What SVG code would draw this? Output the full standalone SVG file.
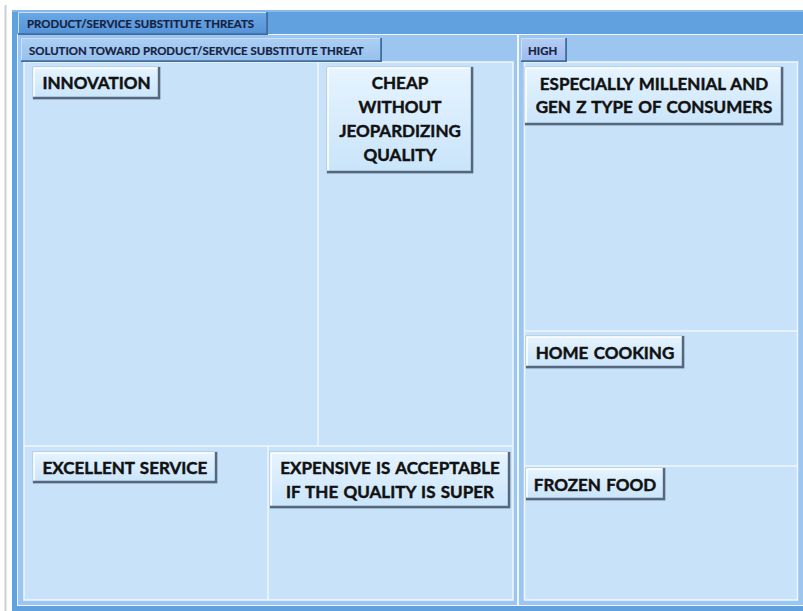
<svg xmlns="http://www.w3.org/2000/svg" width="803" height="611" viewBox="0 0 803 611">
  <defs>
    <linearGradient id="btnFill" x1="0" y1="0" x2="0" y2="1">
      <stop offset="0" stop-color="#e6f4ff"/>
      <stop offset="1" stop-color="#c9e4fa"/>
    </linearGradient>
    <linearGradient id="tabDark" x1="0" y1="0" x2="0" y2="1">
      <stop offset="0" stop-color="#6aa8e6"/>
      <stop offset="1" stop-color="#5592d6"/>
    </linearGradient>
    <linearGradient id="tabLight" x1="0" y1="0" x2="0" y2="1">
      <stop offset="0" stop-color="#acd0f4"/>
      <stop offset="1" stop-color="#97bfec"/>
    </linearGradient>
    <linearGradient id="tabHigh" x1="0" y1="0" x2="0" y2="1">
      <stop offset="0" stop-color="#b4cdf4"/>
      <stop offset="1" stop-color="#9db9ec"/>
    </linearGradient>
  </defs>
  <style>
    .frame-outer { fill: #62a1e0; }
    .frame-inner { fill: #9cc6f0; }
    .panel { fill: #c8e2f9; stroke: #eef7ff; stroke-width: 1.5; }
    .divider { stroke: #eef7ff; stroke-width: 1.5; fill: none; }
    .btn { fill: url(#btnFill); stroke: #9fb9d2; stroke-width: 0.8; }
    .hi { fill: none; stroke: #ffffff; stroke-width: 1.6; }
    .sh { fill: none; stroke: #55677a; stroke-width: 2.4; }
    .tab-sh { fill: none; stroke: #3f6d9f; stroke-width: 1.8; }
    .tab-hi { fill: none; stroke: #c9e0f8; stroke-width: 1; }
    .label { font-family: Lato, "Liberation Sans", sans-serif; font-weight: bold; font-size: 17px; word-spacing: 1.2px; fill: #111111; stroke: #111111; stroke-width: 0.45; text-anchor: middle; }
    .tab-label { font-family: Lato, "Liberation Sans", sans-serif; font-weight: bold; font-size: 11.4px; fill: #14213f; stroke: #14213f; stroke-width: 0.2; }
  </style>

  <!-- page edge -->
  <rect x="0" y="0" width="803" height="611" fill="#ffffff"/>
  <rect x="4.5" y="5" width="2" height="606" fill="#cfcfcf"/>

  <!-- outer frame and header band -->
  <rect class="frame-outer" x="12" y="10" width="800" height="601"/>
  <rect x="12" y="10" width="800" height="2" fill="#88b9ea"/>
  <rect x="17" y="34" width="795" height="572" fill="#eef7ff"/>

  <!-- section frames -->
  <rect class="frame-inner" x="18" y="35" width="499" height="570"/>
  <rect class="frame-inner" x="519" y="35" width="290" height="570"/>

  <!-- panels -->
  <rect class="panel" x="24" y="62" width="489" height="538"/>
  <rect class="panel" x="524.5" y="62" width="273" height="538"/>

  <!-- cell dividers -->
  <g id="connectors">
    <line class="divider" x1="318" y1="62" x2="318" y2="446"/>
    <line class="divider" x1="24" y1="446" x2="513" y2="446"/>
    <line class="divider" x1="268" y1="446" x2="268" y2="600"/>
    <line class="divider" x1="524.5" y1="331" x2="797.5" y2="331"/>
    <line class="divider" x1="524.5" y1="466" x2="797.5" y2="466"/>
  </g>

  <!-- tabs -->
  <g id="tab-threats">
    <rect x="18" y="12" width="250" height="23" fill="url(#tabDark)"/>
    <polyline class="tab-hi" points="18.5,34.5 18.5,12.5 267.5,12.5"/>
    <polyline class="tab-sh" points="18,34.1 267.1,34.1 267.1,12"/>
    <text class="tab-label" x="27" y="27.5">PRODUCT/SERVICE SUBSTITUTE THREATS</text>
  </g>
  <g id="tab-solution">
    <rect x="21" y="38" width="361" height="24" fill="url(#tabLight)"/>
    <polyline class="tab-hi" points="21.5,61.5 21.5,38.5 381.5,38.5"/>
    <polyline class="tab-sh" points="21,61.1 381.1,61.1 381.1,38"/>
    <text class="tab-label" x="29" y="54.5">SOLUTION TOWARD PRODUCT/SERVICE SUBSTITUTE THREAT</text>
  </g>
  <g id="tab-high">
    <rect x="521" y="38" width="46" height="24" fill="url(#tabHigh)"/>
    <polyline class="tab-hi" points="521.5,61.5 521.5,38.5 566.5,38.5"/>
    <polyline class="tab-sh" points="521,61.1 566.1,61.1 566.1,38"/>
    <text class="tab-label" x="528" y="54.5">HIGH</text>
  </g>

  <!-- nodes -->
  <g id="innovation">
    <rect class="btn" x="33" y="67" width="127" height="32"/>
    <polyline class="hi" points="34,98 34,68 159,68"/>
    <polyline class="sh" points="33,98 159,98 159,67"/>
    <text class="label" x="96.5" y="89">INNOVATION</text>
  </g>

  <g id="cheap">
    <rect class="btn" x="327" y="67" width="146" height="106"/>
    <polyline class="hi" points="328,172 328,68 472,68"/>
    <polyline class="sh" points="327,172 472,172 472,67"/>
    <text class="label" x="400" y="89">CHEAP</text>
    <text class="label" x="400" y="113">WITHOUT</text>
    <text class="label" x="400" y="137">JEOPARDIZING</text>
    <text class="label" x="400" y="161">QUALITY</text>
  </g>

  <g id="millenial">
    <rect class="btn" x="525" y="67" width="258" height="58"/>
    <polyline class="hi" points="526,124 526,68 782,68"/>
    <polyline class="sh" points="525,124 782,124 782,67"/>
    <text class="label" x="654" y="90">ESPECIALLY MILLENIAL AND</text>
    <text class="label" x="654" y="113">GEN Z TYPE OF CONSUMERS</text>
  </g>

  <g id="home-cooking">
    <rect class="btn" x="526" y="336" width="158" height="32"/>
    <polyline class="hi" points="527,367 527,337 683,337"/>
    <polyline class="sh" points="526,367 683,367 683,336"/>
    <text class="label" x="605" y="359">HOME COOKING</text>
  </g>

  <g id="frozen-food">
    <rect class="btn" x="526" y="468" width="139" height="32"/>
    <polyline class="hi" points="527,499 527,469 664,469"/>
    <polyline class="sh" points="526,499 664,499 664,468"/>
    <text class="label" x="595" y="491">FROZEN FOOD</text>
  </g>

  <g id="excellent-service">
    <rect class="btn" x="33" y="452" width="184" height="31"/>
    <polyline class="hi" points="34,482 34,453 216,453"/>
    <polyline class="sh" points="33,482 216,482 216,452"/>
    <text class="label" x="125" y="474">EXCELLENT SERVICE</text>
  </g>

  <g id="expensive">
    <rect class="btn" x="270" y="452" width="240" height="56"/>
    <polyline class="hi" points="271,507 271,453 509,453"/>
    <polyline class="sh" points="270,507 509,507 509,452"/>
    <text class="label" x="390" y="474">EXPENSIVE IS ACCEPTABLE</text>
    <text class="label" x="390" y="498">IF THE QUALITY IS SUPER</text>
  </g>
</svg>
